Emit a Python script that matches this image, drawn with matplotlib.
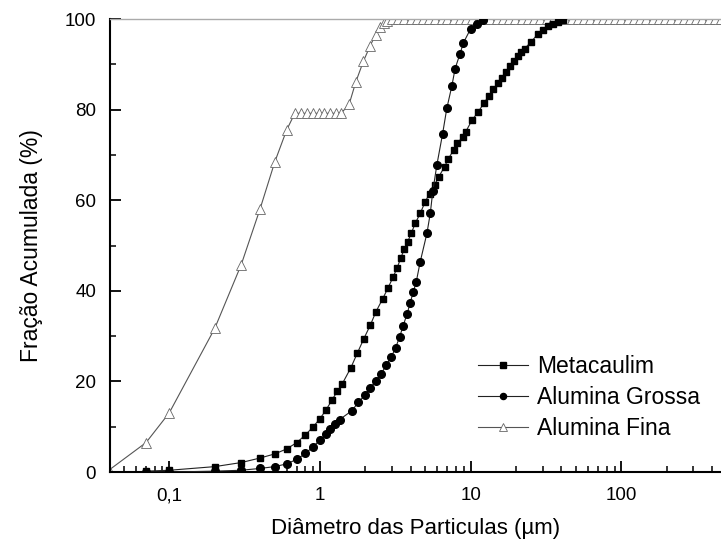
import matplotlib.pyplot as plt
from matplotlib.ticker import LogLocator, FixedLocator, FuncFormatter, NullFormatter

# --- data ---
d_meta = [0.07, 0.1, 0.2, 0.3, 0.4, 0.5, 0.6, 0.7, 0.8, 0.9, 1.0, 1.1, 1.2, 1.3, 1.4,
          1.6, 1.77, 1.95, 2.16, 2.35, 2.6, 2.83, 3.05, 3.24, 3.43, 3.62, 3.81, 4.03,
          4.28, 4.62, 4.99, 5.33, 5.75, 6.14, 6.7, 7.12, 7.69, 8.13, 8.87, 9.25, 10.2,
          11.2, 12.2, 13.2, 14.0, 15.2, 16.2, 17.2, 18.3, 19.5, 20.6, 21.7, 22.8, 25.2,
          28.0, 30.2, 32.6, 35.2, 38.0, 41.0]
v_meta = [0.2, 0.4, 1.2, 2.1, 3.1, 4.0, 5.1, 6.5, 8.2, 10.0, 11.8, 13.8, 15.9, 17.8, 19.4,
          23.0, 26.3, 29.4, 32.5, 35.4, 38.2, 40.7, 43.0, 45.0, 47.2, 49.2, 50.8, 52.7,
          54.9, 57.1, 59.7, 61.5, 63.4, 65.2, 67.4, 69.2, 71.1, 72.6, 74.0, 75.1, 77.7,
          79.5, 81.4, 83.1, 84.5, 85.8, 87.1, 88.4, 89.6, 90.8, 91.8, 92.8, 93.5, 95.0,
          96.8, 97.7, 98.5, 99.0, 99.3, 99.8]

d_gros = [0.07, 0.1, 0.2, 0.3, 0.4, 0.5, 0.6, 0.7, 0.8, 0.9, 1.0, 1.1, 1.17, 1.25, 1.35,
          1.62, 1.8, 1.98, 2.16, 2.35, 2.54, 2.75, 2.98, 3.17, 3.38, 3.56, 3.78, 3.97,
          4.15, 4.35, 4.62, 5.12, 5.39, 5.6, 5.96, 6.5, 6.94, 7.49, 7.88, 8.5, 8.95,
          10.0, 11.0, 12.0]
v_gros = [0.0, 0.0, 0.2, 0.4, 0.8, 1.2, 1.8, 2.8, 4.1, 5.6, 7.1, 8.4, 9.6, 10.7, 11.6,
          13.5, 15.4, 17.0, 18.6, 20.2, 21.6, 23.6, 25.5, 27.4, 29.9, 32.3, 34.9, 37.4,
          39.7, 42.0, 46.4, 52.7, 57.1, 62.0, 67.8, 74.6, 80.3, 85.2, 89.1, 92.4, 94.8,
          97.9, 99.0, 99.8]

d_fina = [0.04, 0.07, 0.1, 0.2, 0.3, 0.4, 0.5, 0.6, 0.68, 0.75, 0.82, 0.9, 0.98, 1.07,
          1.17, 1.28, 1.38, 1.56, 1.73, 1.94, 2.15, 2.34, 2.5, 2.65, 2.8,
          3.0, 3.3, 3.6, 4.0, 4.4, 4.8, 5.3, 5.8, 6.4, 7.0, 7.7, 8.5, 9.3, 10.2, 11.2,
          12.3, 13.5, 14.9, 16.4, 18.0, 19.8, 21.8, 24.0, 26.4, 29.0, 31.9, 35.1, 38.6,
          42.5, 46.7, 51.4, 56.5, 62.2, 68.4, 75.2, 82.7, 91.0, 100, 110, 121, 133, 146,
          161, 177, 195, 214, 236, 259, 285, 314, 345, 380, 418, 460]
v_fina = [0.5, 6.5, 13.1, 31.7, 45.8, 58.1, 68.4, 75.5, 79.2, 79.2, 79.2, 79.2, 79.2, 79.2,
          79.2, 79.2, 79.2, 81.2, 86.2, 90.7, 94.1, 96.6, 98.2, 99.2, 99.6,
          100, 100, 100, 100, 100, 100, 100, 100, 100, 100, 100, 100, 100, 100, 100,
          100, 100, 100, 100, 100, 100, 100, 100, 100, 100, 100, 100, 100,
          100, 100, 100, 100, 100, 100, 100, 100, 100, 100, 100, 100, 100, 100,
          100, 100, 100, 100, 100, 100, 100, 100, 100, 100, 100, 100]

labels = ['Metacaulim', 'Alumina Grossa', 'Alumina Fina']

plt.rcParams['font.family'] = ['Liberation Sans', 'DejaVu Sans']

fig = plt.figure(figsize=(7.21, 5.47), dpi=100)
ax = fig.add_axes([0.1526, 0.137, 0.8474, 0.828])

ax.plot(d_meta, v_meta, color='#222222', linewidth=0.8, marker='s', markersize=5,
        markerfacecolor='black', markeredgecolor='black', label=labels[0], zorder=3)
ax.plot(d_gros, v_gros, color='#222222', linewidth=0.8, marker='o', markersize=5.5,
        markerfacecolor='black', markeredgecolor='black', label=labels[1], zorder=3)
ax.plot(d_fina, v_fina, color='#555555', linewidth=0.8, marker='^', markersize=7,
        markerfacecolor='white', markeredgecolor='#666666', markeredgewidth=0.6,
        label=labels[2], zorder=2)

ax.set_xscale('log')
ax.set_xlim(0.0404, 458)
ax.set_ylim(0, 100)

ax.xaxis.set_major_locator(FixedLocator([0.1, 1, 10, 100]))
ax.xaxis.set_major_formatter(FuncFormatter(lambda x, p: ('%g' % x).replace('.', ',')))
ax.xaxis.set_minor_locator(LogLocator(base=10, subs=range(2, 10)))
ax.xaxis.set_minor_formatter(NullFormatter())
ax.set_yticks([0, 20, 40, 60, 80, 100])
ax.set_yticks([10, 30, 50, 70, 90], minor=True)

ax.tick_params(which='major', direction='in', length=8, width=1.3, labelsize=13.5,
               colors='black')
ax.tick_params(axis='x', which='major', pad=11)
ax.tick_params(axis='y', which='major', pad=10)
ax.tick_params(which='minor', direction='in', length=4, width=1.1)

for s in ['left', 'bottom']:
    ax.spines[s].set_linewidth(1.5)
ax.spines['right'].set_visible(False)
ax.spines['top'].set_color('#aaaaaa')
ax.spines['top'].set_linewidth(1.0)

ax.set_xlabel('Diâmetro das Particulas (µm)', fontsize=16, labelpad=10)
ax.set_ylabel('Fração Acumulada (%)', fontsize=16.5, labelpad=16)

ax.legend(loc='upper left', bbox_to_anchor=(0.634, 0.388), bbox_transform=fig.transFigure,
          frameon=False, fontsize=16.5, handlelength=2.2, handletextpad=0.4,
          labelspacing=0.35, markerscale=0.8)

fig.savefig('out.png', dpi=100)
